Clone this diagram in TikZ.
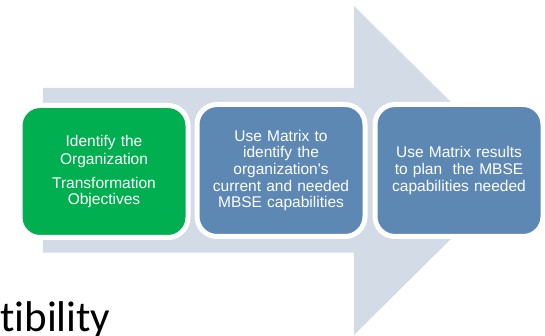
\documentclass[tikz,border=0pt]{standalone}
\usepackage{fontspec}
\setmainfont{Liberation Sans}
\newfontfamily\boxfont{Liberation Sans}
\newfontfamily\bigfont[Ligatures=NoCommon]{Carlito}
\definecolor{arrowgray}{RGB}{211,219,230}
\definecolor{boxgreen}{RGB}{0,176,80}
\definecolor{boxblue}{RGB}{94,136,180}
\begin{document}
\begin{tikzpicture}[x=1pt,y=-1pt,
  stepbox/.style={draw=white, line width=5pt, rounded corners=20pt,
    minimum width=168pt, minimum height=132pt, inner sep=0pt,
    text=white, align=center, text width=155pt,
    font=\boxfont\fontsize{15.5}{16.6}\selectfont},
  bigtext/.style={inner sep=0pt, anchor=base west,
    font=\bigfont\fontsize{43}{50}\selectfont}]
\useasboundingbox (0,0) rectangle (545,336);
\clip (0,0) rectangle (545,336);
\fill[arrowgray] (42.8,88) -- (354,88) -- (354,6) -- (520,170.5)
  -- (354,335) -- (354,252.5) -- (42.8,252.5) -- cycle;
\node[stepbox, fill=boxgreen] (b1) at (104,171.5)
  {\fontsize{15.5}{18}\selectfont Identify the\\Organization\\[6pt]Transformation\\Objectives};
\node[stepbox, fill=boxblue] (b2) at (281,170.5)
  {Use Matrix to\\identify the\\organization's\\current and needed\\MBSE capabilities};
\node[stepbox, fill=boxblue] (b3) at (459,170.5)
  {Use Matrix results\\to plan\ \ the MBSE\\capabilities needed};
\node[bigtext] (t) at (0,331) {tibility};
\end{tikzpicture}
\end{document}
